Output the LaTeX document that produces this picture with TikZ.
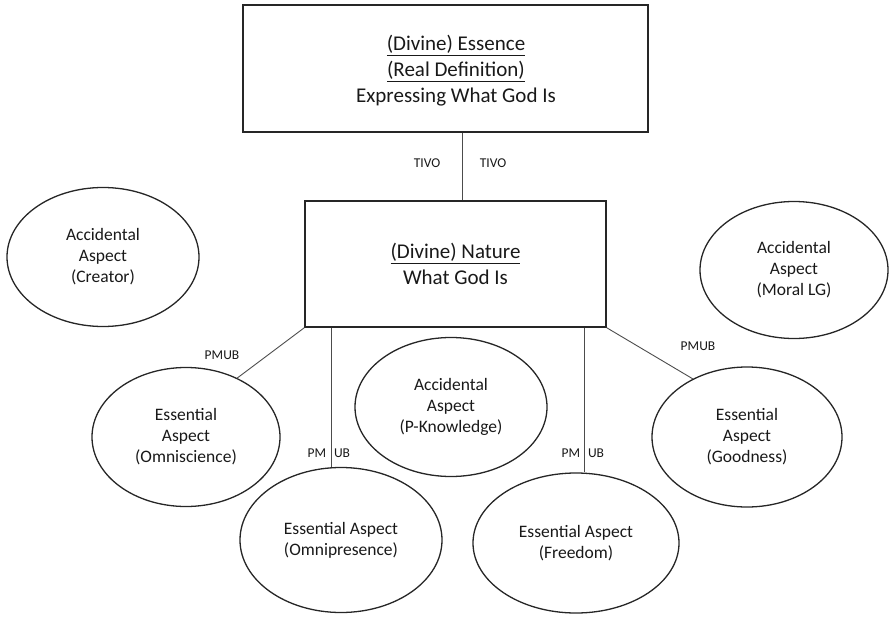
\documentclass[tikz,border=0pt]{standalone}
\usepackage{fontspec}
\setmainfont{Carlito}
\usetikzlibrary{shapes.geometric}
\begin{document}
\begin{tikzpicture}[x=1pt,y=-1pt,
  boxshape/.style={draw=black!85,line width=1.6pt,rectangle,inner sep=0pt},
  ell/.style={draw=black!85,line width=1.3pt,ellipse,inner sep=0pt,align=center,
    font=\fontsize{17.5}{21}\selectfont,text=black!90},
  boxtext/.style={align=center,font=\fontsize{21}{26}\selectfont,text=black!90},
  conn/.style={draw=black!70,line width=0.9pt},
  lbl/.style={font=\fontsize{13.5}{15}\selectfont,text=black!90,inner sep=0pt}]
\useasboundingbox (0,0) rectangle (889,616);
% boxes
\node[boxshape,minimum width=405pt,minimum height=127pt] (essence) at (445.5,68.5) {};
\node[boxtext] (essencetext) at (456,71) {\underline{(Divine) Essence}\\\underline{(Real Definition)}\\Expressing What God Is};
\node[boxshape,boxtext,minimum width=301pt,minimum height=126pt] (nature) at (455.5,264) {\underline{(Divine) Nature}\\What God Is};
% ellipses
\node[ell,minimum width=192pt,minimum height=139pt] (creator) at (103,257) {Accidental\\Aspect\\(Creator)};
\node[ell,minimum width=188pt,minimum height=137pt] (moral) at (794,270) {Accidental\\Aspect\\(Moral LG)};
\node[ell,minimum width=188pt,minimum height=139pt] (omnisc) at (186,437) {Essential\\Aspect\\(Omniscience)};
\node[ell,minimum width=192pt,minimum height=139pt] (pknow) at (451,407) {Accidental\\Aspect\\(P-Knowledge)};
\node[ell,minimum width=190pt,minimum height=140pt] (good) at (747,437) {Essential\\Aspect\\(Goodness)};
\node[ell,minimum width=202pt,minimum height=145pt] (omnipres) at (341,540) {Essential Aspect\\(Omnipresence)};
\node[ell,minimum width=206pt,minimum height=140pt] (freedom) at (576,543) {Essential Aspect\\(Freedom)};
% connector x positions
\coordinate (tv) at (462,0);
\coordinate (lv) at (331,0);
\coordinate (rv) at (584,0);
% connectors
\draw[conn] (essence.south -| tv) -- (nature.north -| tv);
\draw[conn] (nature.south west) -- (omnisc.49);
\draw[conn] (nature.south east) -- (good.133);
\draw[conn] (nature.south -| lv) -- (omnipres.north -| lv);
\draw[conn] (nature.south -| rv) -- (freedom.north -| rv);
% labels
\node[lbl] (tivol) at (427,163) {TIVO};
\node[lbl] (tivor) at (493,163) {TIVO};
\node[lbl] (pmubl) at (222,355) {PMUB};
\node[lbl] (pmubr) at (698,346) {PMUB};
\node[lbl] (pml) at (317,453) {PM};
\node[lbl] (ubl) at (342,453) {UB};
\node[lbl] (pmr) at (571,453) {PM};
\node[lbl] (ubr) at (596,453) {UB};
\end{tikzpicture}
\end{document}
